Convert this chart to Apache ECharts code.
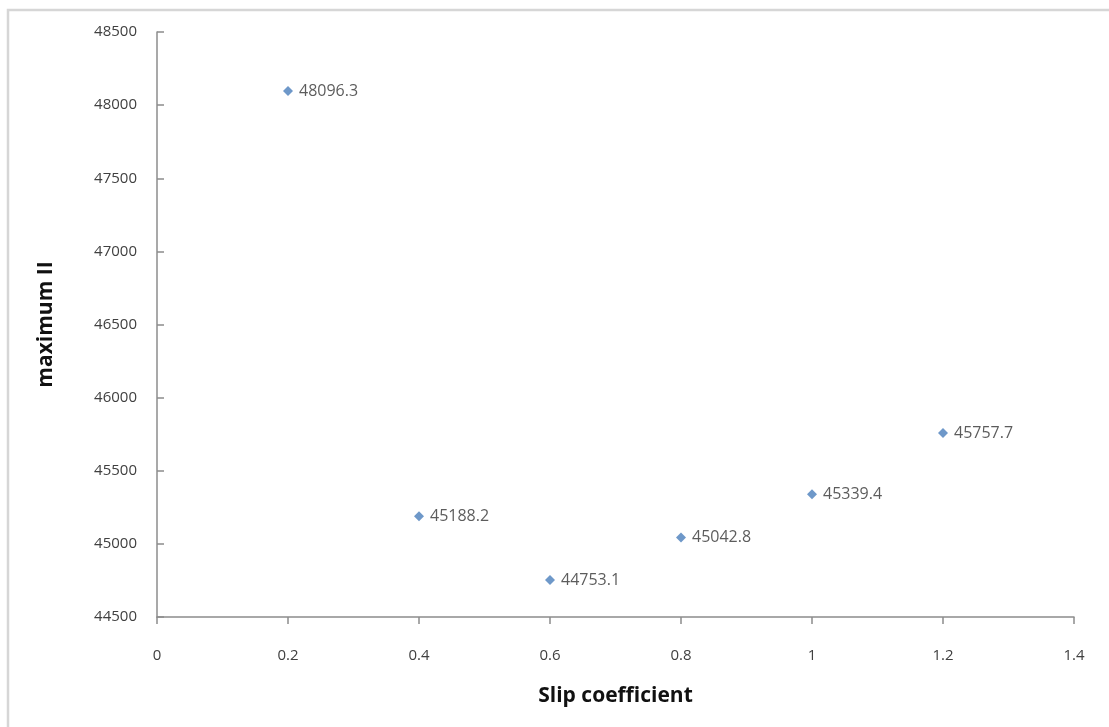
<!DOCTYPE html>
<html>
<head>
<meta charset="utf-8">
<title>Maximum II vs slip coefficient</title>
<script src="https://cdn.jsdelivr.net/npm/echarts@6/dist/echarts.min.js"></script>
<style>
  html, body { margin: 0; padding: 0; background: #ffffff; }
  #chart { width: 1109px; height: 727px; }
</style>
</head>
<body>
<div id="chart"></div>
<script>
// Slip coefficient (x) and the resulting maximum II (y)
const slipCoefficients = [0.2, 0.4, 0.6, 0.8, 1.0, 1.2];
const maximumValues = [48096.3, 45188.2, 44753.1, 45042.8, 45339.4, 45757.7];

const xTitle = 'Slip coefficient';
const yTitle = 'maximum II';

const points = slipCoefficients.map((x, i) => [x, maximumValues[i]]);

const chart = echarts.init(document.getElementById('chart'), null, { renderer: 'canvas' });

const fontFamily = '"Open Sans", "Noto Sans", sans-serif';

chart.setOption({
  animation: false,
  backgroundColor: '#ffffff',
  graphic: [
    {
      type: 'rect',
      shape: { x: 8, y: 10, width: 1120, height: 740 },
      style: { fill: 'none', stroke: '#d6d6d6', lineWidth: 2.5 },
      silent: true
    }
  ],
  grid: { left: 157, top: 32, right: 35, bottom: 110 },
  xAxis: {
    type: 'value',
    min: 0,
    max: 1.4,
    interval: 0.2,
    name: xTitle,
    nameLocation: 'middle',
    nameGap: 69,
    nameTextStyle: { fontFamily, fontSize: 21, fontWeight: 'bold', color: '#111' },
    axisLine: { show: true, onZero: false, lineStyle: { color: '#8c8c8c', width: 1.5 } },
    axisTick: { show: true, inside: false, length: 7, lineStyle: { color: '#8c8c8c', width: 1.5 } },
    axisLabel: {
      margin: 31,
      fontFamily,
      fontSize: 15,
      color: '#404040',
      formatter: v => String(Math.round(v * 10) / 10)
    },
    splitLine: { show: false }
  },
  yAxis: {
    type: 'value',
    min: 44500,
    max: 48500,
    interval: 500,
    name: yTitle,
    nameLocation: 'middle',
    nameGap: 100,
    nameRotate: 90,
    nameTextStyle: { fontFamily, fontSize: 21, fontWeight: 'bold', color: '#111' },
    axisLine: { show: true, onZero: false, lineStyle: { color: '#8c8c8c', width: 1.5 } },
    axisTick: { show: true, inside: true, length: 7, lineStyle: { color: '#8c8c8c', width: 1.5 } },
    axisLabel: {
      margin: 20,
      fontFamily,
      fontSize: 15,
      color: '#404040',
      formatter: v => String(v)
    },
    splitLine: { show: false }
  },
  series: [
    {
      type: 'scatter',
      data: points,
      symbol: 'diamond',
      symbolSize: 10,
      itemStyle: { color: '#4a7ebb' },
      label: {
        show: true,
        position: 'right',
        distance: 6,
        fontFamily,
        fontSize: 16,
        color: '#333',
        formatter: p => p.value[1].toFixed(1)
      }
    }
  ]
});
</script>
</body>
</html>
